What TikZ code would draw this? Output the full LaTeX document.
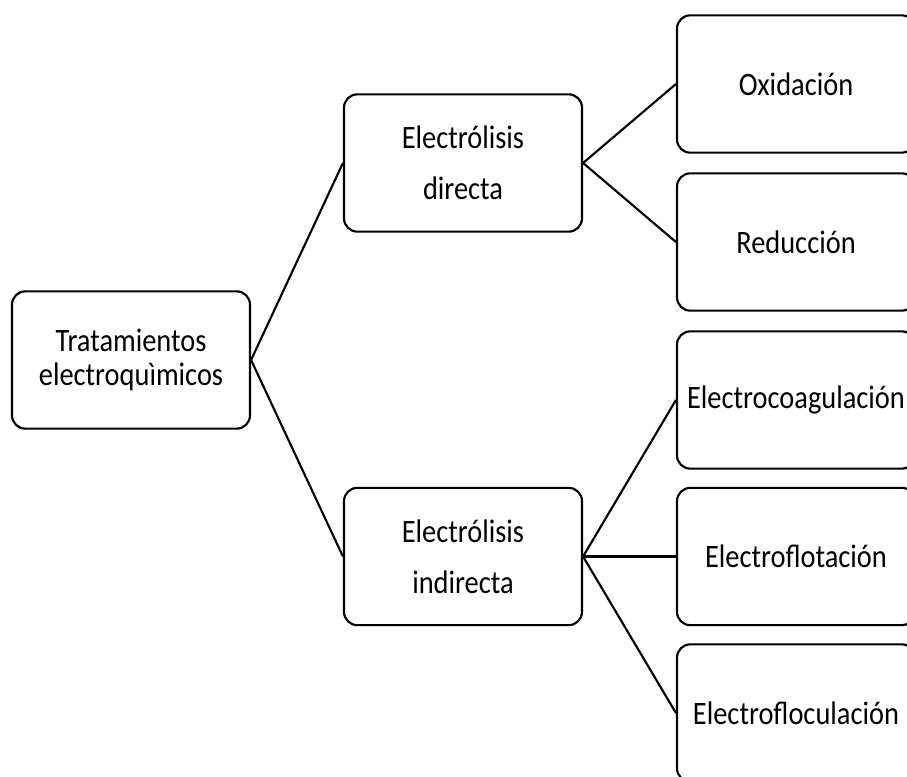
\documentclass[tikz,border=0pt]{standalone}
\usepackage{fontspec}
\setmainfont{Carlito}[FakeStretch=0.87]
\usetikzlibrary{positioning}

\begin{document}
\begin{tikzpicture}[x = 0.75pt, y = -0.75pt,
    box/.style = {draw = black, line width = 1.6pt, rounded corners = 10pt,
                  minimum width = 178.5pt, minimum height = 103pt, inner sep = 0pt,
                  align = center, font = \fontsize{24.5}{26}\selectfont},
    midbox/.style = {box, font = \fontsize{24.5}{38}\selectfont},
    link/.style = {draw = black, line width = 1.6pt}]
    \useasboundingbox (0,0) rectangle (907,777);
    \clip (0,0) rectangle (907,777);

    \node [box]    (tratamientos) at (131,360)   {Tratamientos\\electroquìmicos};

    \node [midbox] (directa)      at (463,163)   {Electrólisis\\directa};
    \node [midbox] (indirecta)    at (463,556.5) {Electrólisis\\indirecta};

    \node [box]    (oxidacion)    at (796,84)    {Oxidación};
    \node [box]    (reduccion)    at (796,242)   {Reducción};
    \node [box]    (coagulacion)  at (796,400)   {Electrocoagulación};
    \node [box]    (flotacion)    at (796,556.5) {Electroflotación};
    \node [box]    (floculacion)  at (796,713)   {Electrofloculación};

    \draw [link] (tratamientos.east) -- (directa.west);
    \draw [link] (tratamientos.east) -- (indirecta.west);

    \draw [link] (directa.east) -- (oxidacion.west);
    \draw [link] (directa.east) -- (reduccion.west);

    \draw [link] (indirecta.east) -- (coagulacion.west);
    \draw [link] (indirecta.east) -- (flotacion.west);
    \draw [link] (indirecta.east) -- (floculacion.west);
\end{tikzpicture}
\end{document}
